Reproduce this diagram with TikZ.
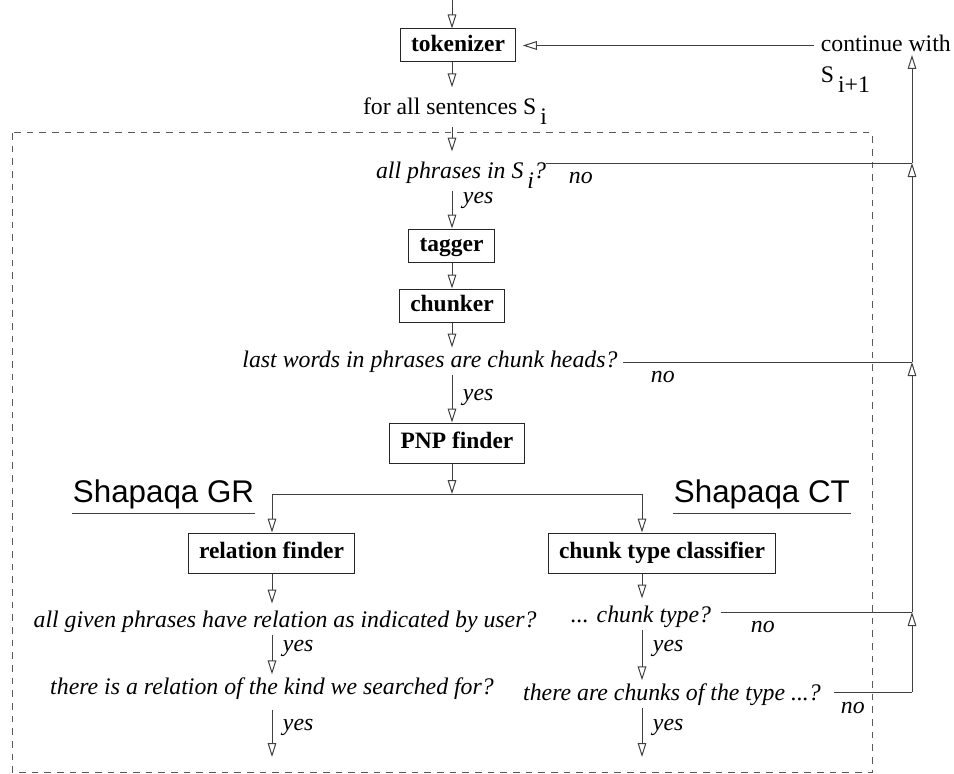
\documentclass[tikz,border=0pt]{standalone}
\usepackage{fontspec}
\setmainfont{Liberation Serif}
\newfontfamily\headfont{Liberation Sans}
\usetikzlibrary{arrows.meta}
\definecolor{wirecol}{RGB}{64, 64, 64}
\definecolor{framecol}{RGB}{90, 90, 90}
\newcommand{\lowsub}[1]{\,\raisebox{-0.38em}{#1}}

\tikzset{
  conn/.style={wirecol, line width=0.75pt},
  flow/.style={conn, -{Triangle[open, length=10.5pt, width=6.5pt]}},
  stage/.style={draw=black!85, line width=0.75pt, inner xsep=8pt, minimum height=24.75pt,
    text height=12pt, text depth=3.5pt, font=\bfseries\fontsize{17.6}{20}\selectfont},
  query/.style={inner sep=2pt, font=\itshape\fontsize{17.85}{20}\selectfont},
  plain/.style={inner sep=2pt, font=\fontsize{17.8}{21}\selectfont},
  brand/.style={inner sep=0.5pt, font=\headfont\fontsize{23.5}{26}\selectfont}
}

\begin{document}
\begin{tikzpicture}[x=0.75pt, y=-0.75pt]
  \useasboundingbox (0, 0) rectangle (954, 774);

  % frame of the per-sentence loop
  \draw[framecol, line width=0.75pt, dash pattern=on 5pt off 4.5pt] (12, 133) rectangle (872, 772);

  \coordinate (axis) at (452, 0);

  % main line
  \node[stage] (tok) at (458, 45.5) {tokenizer};
  \node[plain, anchor=base] (sent) at (455, 115) {for all sentences S\lowsub{i}};
  \node[query, anchor=base] (phr) at (461, 179) {all phrases in S\lowsub{i}?};
  \node[stage] (tag) at (451.5, 245.5) {tagger};
  \node[stage] (chk) at (452, 305.5) {chunker};
  \node[query, anchor=base] (last) at (430, 367) {last words in phrases are chunk heads?};
  \node[stage, minimum height=30pt] (pnp) at (457, 443) {PNP finder};

  % the two systems
  \node[brand, anchor=base west] (sgr) at (72, 502) {Shapaqa GR};
  \node[brand, anchor=base west] (sct) at (673, 502) {Shapaqa CT};
  \draw[conn] ([yshift=-3]sgr.south west) -- ([yshift=-3]sgr.south east);
  \draw[conn] ([yshift=-3]sct.south west) -- ([yshift=-3]sct.south east);

  \node[stage, minimum height=30pt] (rel) at (271.5, 553) {relation finder};
  \node[stage, minimum height=30pt] (ctc) at (662, 553) {chunk type classifier};
  \node[query, anchor=base] (q3) at (285, 627) {all given phrases have relation as indicated by user?};
  \node[query, anchor=base] (q4) at (272, 694) {there is a relation of the kind we searched for?};
  \node[query, anchor=base] (q5) at (641, 622) {... chunk type?};
  \node[query, anchor=base] (q6) at (672, 700) {there are chunks of the type ...?};

  % next sentence
  \node[plain, anchor=base west] (cont) at (818, 52) {continue with};
  \node[plain, anchor=base west] (next) at (818, 83) {S\lowsub{i+1}};

  \coordinate (r0) at (912, 55);
  \coordinate (r1) at (912, 163);
  \coordinate (r2) at (912, 362);
  \coordinate (r3) at (912, 612);
  \coordinate (r4) at (912, 692);
  \coordinate (fork) at (452, 494);
  \coordinate (gl) at (272, 494);
  \coordinate (gr) at (642, 494);
  \coordinate (outl) at (272, 757);
  \coordinate (outr) at (642, 757);

  % answers
  \foreach \n/\x/\y in {y1/460/200, y2/460/397, y3/280/648, y4/280/727, y5/650/648, y6/650/727} {
    \node[query, anchor=west] (\n) at (\x, \y) {yes};
  }
  \foreach \n/\x/\y in {n1/566/184, n2/648/382, n3/748/632, n4/838/713} {
    \node[query, anchor=base west] (\n) at (\x, \y) {no};
  }

  % arrows down the main line
  \draw[flow] (axis) -- (tok.north -| axis);
  \draw[flow, shorten >=6pt] (tok.south -| axis) -- (sent.north -| axis);
  \draw[flow, shorten >=6pt] (sent.south -| axis) -- (phr.north -| axis);
  \draw[flow] (phr.south -| axis) -- (tag.north -| axis);
  \draw[flow] (tag.south -| axis) -- (chk.north -| axis);
  \draw[flow] (chk.south -| axis) -- (last.north -| axis);
  \draw[flow] (last.south -| axis) -- (pnp.north -| axis);
  \draw[flow] (pnp.south -| axis) -- (fork);
  \draw[conn] (gl) -- (gr);

  % left branch
  \draw[flow] (gl) -- (rel.north -| gl);
  \draw[flow, shorten >=3pt] (rel.south -| gl) -- (q3.north -| gl);
  \draw[flow] (q3.south -| gl) -- (q4.north -| gl);
  \draw[flow, shorten <=6pt] (q4.south -| gl) -- (outl);

  % right branch
  \draw[flow] (gr) -- (ctc.north -| gr);
  \draw[flow, shorten >=3pt] (ctc.south -| gr) -- (q5.north -| gr);
  \draw[flow] (q5.south -| gr) -- (q6.north -| gr);
  \draw[flow] (q6.south -| gr) -- (outr);

  % back to the tokenizer
  \draw[conn] ([xshift=-2pt]phr.east |- r1) -- (r1);
  \draw[conn] ([xshift=2pt]last.east |- r2) -- (r2);
  \draw[conn] ([xshift=5pt]q5.east |- r3) -- (r3);
  \draw[conn] ([xshift=8pt]q6.east |- r4) -- (r4);
  \foreach \a/\b in {r4/r3, r3/r2, r2/r1, r1/r0} {
    \draw[flow] (\a) -- (\b);
  }
  \draw[flow, shorten >=5pt] ([xshift=-3pt]cont.west |- tok.east) -- (tok.east);

\end{tikzpicture}
\end{document}
